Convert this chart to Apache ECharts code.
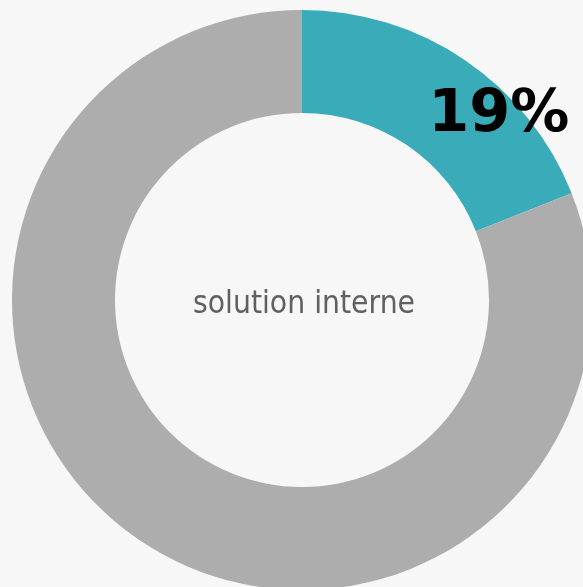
<!DOCTYPE html>
<html><head><meta charset="utf-8">
<script src="https://cdn.jsdelivr.net/npm/echarts@6/dist/echarts.min.js"></script>
<style>html,body{margin:0;padding:0;background:#f7f7f7}#c{width:583px;height:587px}</style>
</head><body><div id="c"></div>
<script>
const categories = ['solution interne', 'autre'];
const values = [19, 81];
const labels = ['19%', ''];
const centerText = 'solution interne';

const chart = echarts.init(document.getElementById('c'), null, {renderer: 'canvas'});
chart.setOption({
  backgroundColor: '#f7f7f7',
  animation: false,
  title: {
    text: centerText,
    left: 299, top: 300,
    textAlign: 'center', textVerticalAlign: 'middle',
    textStyle: {fontFamily: 'DejaVu Sans Condensed', fontWeight: 'normal', fontSize: 31.5, color: '#606060'}
  },
  series: [{
    type: 'pie',
    center: [302, 300],
    radius: [187, 290],
    startAngle: 90,
    clockwise: true,
    silent: true,
    labelLine: {show: false},
    data: categories.map((c, i) => ({
      name: c, value: values[i],
      itemStyle: {color: i === 0 ? '#3aacb9' : '#adadad'},
      label: i === 0 ? {
        show: true, position: 'inside', formatter: labels[i],
        offset: [61, 15],
        fontFamily: 'DejaVu Sans', fontWeight: 'bold', fontSize: 59, color: '#000'
      } : {show: false}
    }))
  }]
});
</script></body></html>
